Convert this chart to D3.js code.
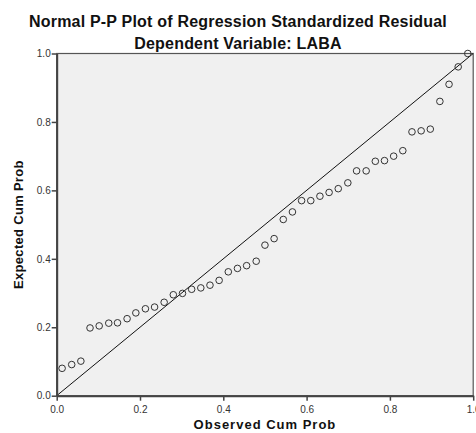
<!DOCTYPE html>
<html>
<head>
<meta charset="utf-8">
<script src="https://cdn.jsdelivr.net/npm/d3@7"></script>
<style>
  body { margin: 0; background: #fff; }
  svg { display: block; }
</style>
</head>
<body>
<script>
// observed vs expected cumulative probabilities
const observed = [0.013, 0.036, 0.058, 0.080, 0.102, 0.125, 0.146, 0.169, 0.190, 0.213,
  0.235, 0.258, 0.280, 0.302, 0.324, 0.346, 0.368, 0.390, 0.412, 0.434,
  0.456, 0.479, 0.500, 0.522, 0.544, 0.566, 0.588, 0.610, 0.632, 0.654,
  0.676, 0.699, 0.720, 0.743, 0.765, 0.787, 0.809, 0.831, 0.853, 0.875,
  0.897, 0.920, 0.942, 0.964, 0.987]
const expected = [0.080, 0.091, 0.101, 0.198, 0.204, 0.212, 0.213, 0.225, 0.242, 0.254,
  0.259, 0.273, 0.295, 0.299, 0.311, 0.315, 0.323, 0.337, 0.362, 0.372,
  0.380, 0.393, 0.440, 0.459, 0.515, 0.537, 0.570, 0.570, 0.583, 0.594,
  0.605, 0.622, 0.657, 0.657, 0.685, 0.687, 0.700, 0.716, 0.771, 0.774,
  0.779, 0.860, 0.910, 0.961, 1.000]
const ticks = [0, 0.2, 0.4, 0.6, 0.8, 1.0]
const titleLines = ['Normal P-P Plot of Regression Standardized Residual', 'Dependent Variable: LABA']

const box = { width: 476, height: 433, left: 56.7, top: 53.5, right: 473.2, bottom: 395.7 }
const font = 'Liberation Sans, Arial, sans-serif'

const svg = d3.select('body').append('svg')
  .attr('width', box.width).attr('height', box.height)

const x = d3.scaleLinear().domain([0, 1]).range([box.left, box.right])
const y = d3.scaleLinear().domain([0, 1]).range([box.bottom, box.top])

// plot area
svg.append('rect')
  .attr('x', box.left).attr('y', box.top)
  .attr('width', box.right - box.left).attr('height', box.bottom - box.top)
  .attr('fill', '#f0f0f0')
  .attr('stroke', '#555').attr('stroke-width', 1.2)

// titles
svg.selectAll('text.title').data(titleLines).enter().append('text')
  .attr('class', 'title')
  .attr('x', 238).attr('y', (d, i) => 27 + i * 22)
  .attr('text-anchor', 'middle')
  .attr('font-family', font).attr('font-weight', 'bold').attr('font-size', 16)
  .attr('letter-spacing', 0.2)
  .attr('fill', '#111')
  .text(d => d)

// diagonal reference line
svg.append('line')
  .attr('x1', x(0)).attr('y1', y(0)).attr('x2', x(1)).attr('y2', y(1))
  .attr('stroke', '#111').attr('stroke-width', 1)

// points
svg.append('g').selectAll('circle').data(observed).enter().append('circle')
  .attr('cx', d => x(d))
  .attr('cy', (d, i) => y(expected[i]))
  .attr('r', 3.3)
  .attr('fill', 'none')
  .attr('stroke', '#333').attr('stroke-width', 1)

// axes
const xAxis = svg.append('g')
  .attr('transform', `translate(0,${box.bottom})`)
  .call(d3.axisBottom(x).tickValues(ticks).tickFormat(d3.format('.1f')).tickSize(5).tickSizeOuter(0))
const yAxis = svg.append('g')
  .attr('transform', `translate(${box.left},0)`)
  .call(d3.axisLeft(y).tickValues(ticks).tickFormat(d3.format('.1f')).tickSize(5).tickSizeOuter(0))

;[xAxis, yAxis].forEach(a => {
  a.select('.domain').attr('stroke', '#444').attr('stroke-width', 2)
  a.selectAll('.tick line').attr('stroke', '#444').attr('stroke-width', 1.5)
  a.selectAll('.tick text').attr('font-family', font).attr('font-size', 10).attr('fill', '#333')
})
xAxis.selectAll('.tick text').attr('dy', '0.9em')
yAxis.selectAll('.tick text').attr('x', -6)

// axis titles
svg.append('text')
  .attr('x', (box.left + box.right) / 2).attr('y', 429)
  .attr('text-anchor', 'middle')
  .attr('font-family', font).attr('font-weight', 'bold').attr('font-size', 13)
  .attr('letter-spacing', 1)
  .attr('fill', '#111')
  .text('Observed Cum Prob')
svg.append('text')
  .attr('transform', `translate(23,${(box.top + box.bottom) / 2}) rotate(-90)`)
  .attr('text-anchor', 'middle')
  .attr('font-family', font).attr('font-weight', 'bold').attr('font-size', 13)
  .attr('letter-spacing', 0.3)
  .attr('fill', '#111')
  .text('Expected Cum Prob')
</script>
</body>
</html>
